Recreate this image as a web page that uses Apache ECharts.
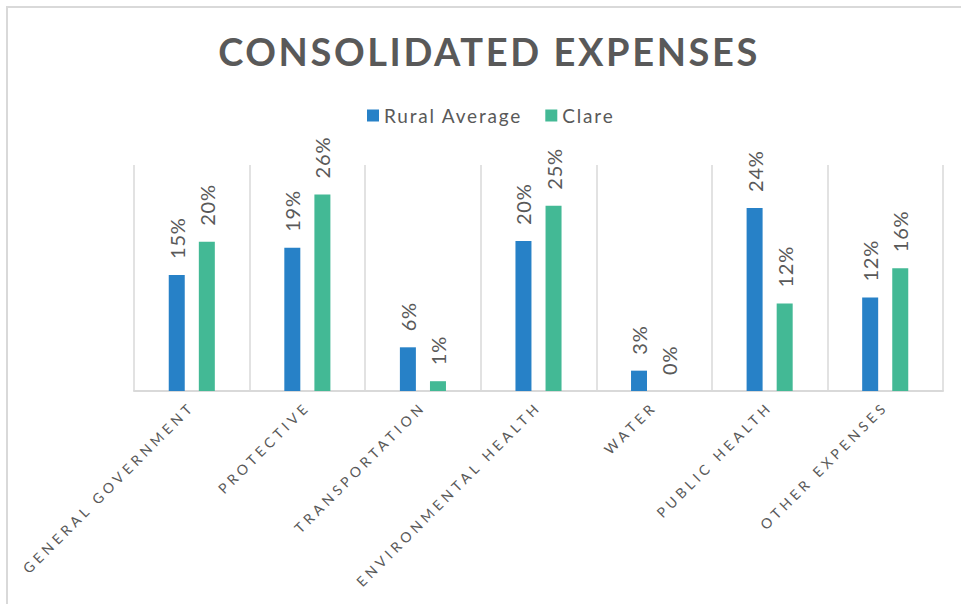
<!DOCTYPE html>
<html>
<head>
<meta charset="utf-8">
<script src="https://cdn.jsdelivr.net/npm/echarts@6/dist/echarts.min.js"></script>
<style>
  html, body { margin: 0; padding: 0; background: #ffffff; }
  #chart { width: 961px; height: 604px; }
  /* wide tracking, as in the reference typeface */
  #chart text[style*="14px"] { letter-spacing: 4px; }
  #chart text[style*="38px"] { letter-spacing: 2.6px; }
  #chart text[style*="19px"] { letter-spacing: 1.8px; }
  #chart text[style*="20px"] { letter-spacing: 0.8px; }
</style>
</head>
<body>
<div id="chart"></div>
<script>
const titleText = 'CONSOLIDATED EXPENSES';
const categories = ['GENERAL GOVERNMENT', 'PROTECTIVE', 'TRANSPORTATION', 'ENVIRONMENTAL HEALTH', 'WATER', 'PUBLIC HEALTH', 'OTHER EXPENSES'];
const seriesNames = ['Rural Average', 'Clare'];
const ruralAverage = [0.154, 0.190, 0.058, 0.199, 0.027, 0.243, 0.124];
const clare = [0.198, 0.261, 0.013, 0.246, 0.000, 0.116, 0.163];

const BLUE = '#2781C7';
const GREEN = '#43B995';
const TEXT = '#595959';
const LINE = '#d9d9d9';
const FONT = 'Lato';

const chart = echarts.init(document.getElementById('chart'), null, { renderer: 'svg' });

const labelCfg = {
  show: true,
  position: 'top',
  rotate: 90,
  align: 'left',
  verticalAlign: 'middle',
  distance: 16,
  color: TEXT,
  fontFamily: FONT,
  fontSize: 20,
  formatter: p => Math.round(p.value * 100) + '%'
};

chart.setOption({
  backgroundColor: '#ffffff',
  animation: false,
  graphic: [{
    type: 'rect',
    shape: { x: 7, y: 7, width: 1000, height: 700 },
    style: { fill: 'none', stroke: LINE, lineWidth: 2 },
    silent: true
  }],
  title: {
    text: titleText,
    left: 484,
    textAlign: 'center',
    top: 27,
    textStyle: { fontFamily: FONT, fontSize: 38, fontWeight: 'bold', color: TEXT }
  },
  legend: {
    data: seriesNames,
    top: 101,
    left: 362,
    icon: 'rect',
    itemWidth: 12,
    itemHeight: 12,
    itemGap: 46,
    textStyle: { fontFamily: FONT, fontSize: 19, color: TEXT }
  },
  grid: { left: 134, right: 18, top: 165, bottom: 213 },
  xAxis: {
    type: 'category',
    data: categories,
    axisLine: { lineStyle: { color: LINE, width: 2 } },
    axisTick: { show: false },
    splitLine: { show: true, lineStyle: { color: LINE, width: 1.5 } },
    axisLabel: {
      rotate: 45,
      interval: 0,
      margin: 13,
      color: TEXT,
      fontFamily: FONT,
      fontSize: 14
    }
  },
  yAxis: {
    type: 'value',
    min: 0,
    max: 0.3,
    show: false,
    splitLine: { show: false }
  },
  series: [
    {
      name: seriesNames[0],
      type: 'bar',
      data: ruralAverage,
      barWidth: 16,
      barGap: '88%',
      itemStyle: { color: BLUE },
      label: labelCfg
    },
    {
      name: seriesNames[1],
      type: 'bar',
      data: clare,
      barWidth: 16,
      itemStyle: { color: GREEN },
      label: labelCfg
    }
  ]
});
</script>
</body>
</html>
